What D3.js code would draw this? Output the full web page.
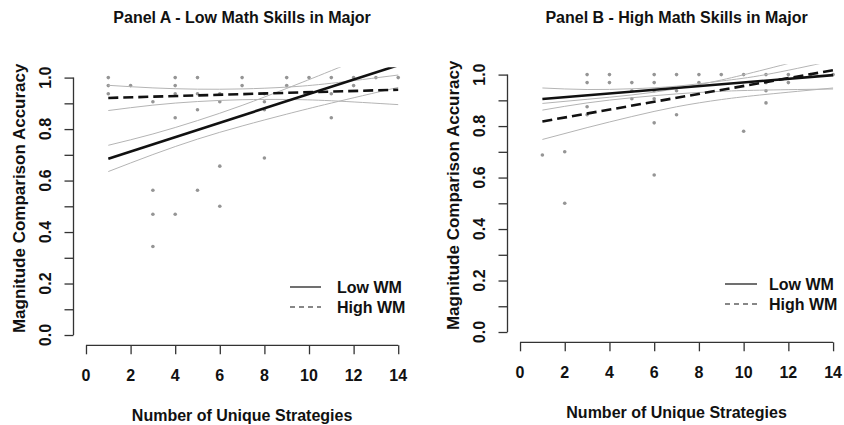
<!DOCTYPE html>
<html>
<head>
<meta charset="utf-8">
<script src="https://cdn.jsdelivr.net/npm/d3@7"></script>
<style>
  body { margin: 0; background: #fff; }
  text { font-family: "Liberation Sans", Arial, Helvetica, sans-serif; font-weight: bold; fill: #111; }
</style>
</head>
<body>
<svg id="chart" width="844" height="425"></svg>
<script>
// axis ticks
const xTicks = [0, 2, 4, 6, 8, 10, 12, 14]
const yTicks = [0, 0.1, 0.2, 0.3, 0.4, 0.5, 0.6, 0.7, 0.8, 0.9, 1.0]
const yLabels = ["0.0", "", "0.2", "", "0.4", "", "0.6", "", "0.8", "", "1.0"]
const legendLabels = ["Low WM", "High WM"]

// Panel A - raw points (strategies, accuracy)
const aPointX = [1, 1, 1, 2, 3, 3, 3, 3, 4, 4, 4, 4, 4, 5, 5, 5, 5, 6, 6, 6, 6, 7, 7, 8, 8, 8, 8, 9, 9, 10, 11, 11, 11, 12, 12, 13, 14]
const aPointY = [1.0, 0.969, 0.9375, 0.969, 0.906, 0.5625, 0.469, 0.344, 1.0, 0.969, 0.9375, 0.844, 0.469, 1.0, 0.9375, 0.875, 0.5625,
  0.9375, 0.906, 0.656, 0.5, 1.0, 0.969, 0.9375, 0.906, 0.875, 0.6875, 1.0, 0.969, 1.0, 1.0, 0.9375, 0.844, 1.0, 0.969, 1.0, 1.0]

// Panel B - raw points
const bPointX = [1, 2, 2, 3, 3, 3, 3, 4, 4, 5, 5, 5, 6, 6, 6, 6, 6, 6, 7, 7, 7, 8, 8, 9, 10, 10, 11, 11, 11, 11, 12, 12, 13, 14]
const bPointY = [0.6875, 0.70, 0.5, 1.0, 0.969, 0.875, 0.844, 1.0, 0.969, 0.969, 0.9375, 0.906, 1.0, 0.969, 0.9375, 0.906, 0.8125, 0.61,
  1.0, 0.9375, 0.844, 1.0, 0.969, 1.0, 1.0, 0.78, 1.0, 0.969, 0.9375, 0.89, 1.0, 0.969, 1.0, 1.0]

// fitted lines, values at x = 1 and x = 14
const fitX = [1, 14]
const aLowFit = [0.685, 1.048]
const aHighFit = [0.921, 0.953]
const bLowFit = [0.905, 0.998]
const bHighFit = [0.818, 1.017]

// confidence bands read at these x values
const ciX = [1, 3, 5, 7, 9, 11, 14]
const aLowUpper = [0.737, 0.781, 0.833, 0.892, 0.958, 1.027, 1.134]
const aLowLower = [0.635, 0.701, 0.761, 0.812, 0.858, 0.901, 0.962]
const aHighUpper = [0.970, 0.960, 0.955, 0.956, 0.963, 0.978, 1.010]
const aHighLower = [0.872, 0.893, 0.907, 0.914, 0.915, 0.910, 0.895]
const bLowUpper = [0.948, 0.942, 0.945, 0.955, 0.975, 1.000, 1.054]
const bLowLower = [0.862, 0.890, 0.910, 0.925, 0.935, 0.940, 0.944]
const bHighUpper = [0.888, 0.904, 0.921, 0.945, 0.979, 1.021, 1.088]
const bHighLower = [0.748, 0.794, 0.837, 0.875, 0.903, 0.923, 0.948]

const svg = d3.select("#chart")

const panels = [
  {
    id: "A", title: "Panel A - Low Math Skills in Major",
    xRange: [73.5, 410.7], yRange: [345.3, 67.3],
    px: aPointX, py: aPointY,
    low: aLowFit, high: aHighFit,
    bands: [aLowUpper, aLowLower, aHighUpper, aHighLower],
    legend: { x1: 290, x2: 321, tx: 337, y: [287, 307] },
    titleY: 23, xLabY: 381, xTitleY: 421
  },
  {
    id: "B", title: "Panel B - High Math Skills in Major",
    xRange: [507.5, 845.6], yRange: [342.3, 64.3],
    px: bPointX, py: bPointY,
    low: bLowFit, high: bHighFit,
    bands: [bLowUpper, bLowLower, bHighUpper, bHighLower],
    legend: { x1: 725, x2: 757, tx: 769, y: [284, 304] },
    titleY: 23, xLabY: 378, xTitleY: 418
  }
]

panels.forEach(p => drawPanel(p))

function drawPanel(p) {
  const x = d3.scaleLinear().domain([-0.56, 14.56]).range(p.xRange)
  const y = d3.scaleLinear().domain([-0.04, 1.04]).range(p.yRange)
  const g = svg.append("g")

  g.append("clipPath").attr("id", "clip" + p.id)
    .append("rect")
    .attr("x", p.xRange[0]).attr("y", p.yRange[1])
    .attr("width", p.xRange[1] - p.xRange[0])
    .attr("height", p.yRange[0] - p.yRange[1])

  const plot = g.append("g").attr("clip-path", `url(#clip${p.id})`)

  // raw points
  plot.selectAll("circle")
    .data(p.px.map((v, i) => [v, p.py[i]]))
    .enter().append("circle")
    .attr("cx", d => x(d[0]))
    .attr("cy", d => y(d[1]))
    .attr("r", 1.8)
    .attr("fill", "#959595")

  // confidence bands
  const band = d3.line().x((d, i) => x(ciX[i])).y(d => y(d)).curve(d3.curveNatural)
  p.bands.forEach(b => {
    plot.append("path")
      .attr("d", band(b))
      .attr("fill", "none")
      .attr("stroke", "#b4b4b4")
      .attr("stroke-width", 1)
  })

  // fitted lines
  const fit = d3.line().x((d, i) => x(fitX[i])).y(d => y(d))
  plot.append("path").attr("d", fit(p.low))
    .attr("fill", "none").attr("stroke", "#111").attr("stroke-width", 2.6)
  plot.append("path").attr("d", fit(p.high))
    .attr("fill", "none").attr("stroke", "#111").attr("stroke-width", 2.6)
    .attr("stroke-dasharray", "10,5")

  // x axis
  const xAxis = g.append("g")
    .attr("transform", `translate(0,${p.yRange[0]})`)
    .call(d3.axisBottom(x).tickValues(xTicks).tickSize(9).tickFormat(""))
  xAxis.select(".domain").remove()
  xAxis.append("line")
    .attr("x1", x(xTicks[0])).attr("x2", x(xTicks[xTicks.length - 1]))
    .attr("stroke", "#333").attr("stroke-width", 1.3)
  xAxis.selectAll(".tick line").attr("stroke", "#333").attr("stroke-width", 1.3)

  g.selectAll(".xlab")
    .data(xTicks)
    .enter().append("text")
    .attr("x", d => x(d))
    .attr("y", p.xLabY)
    .attr("text-anchor", "middle")
    .style("font-size", "16px")
    .text(d => d)

  // y axis
  const yAxis = g.append("g")
    .attr("transform", `translate(${p.xRange[0]},0)`)
    .call(d3.axisLeft(y).tickValues(yTicks).tickSize(9).tickFormat(""))
  yAxis.select(".domain").remove()
  yAxis.append("line")
    .attr("y1", y(yTicks[0])).attr("y2", y(yTicks[yTicks.length - 1]))
    .attr("stroke", "#333").attr("stroke-width", 1.3)
  yAxis.selectAll(".tick line").attr("stroke", "#333").attr("stroke-width", 1.3)

  const labX = p.xRange[0] - 23
  g.selectAll(".ylab")
    .data(yTicks.map((v, i) => [v, yLabels[i]]).filter(d => d[1] !== ""))
    .enter().append("text")
    .attr("transform", d => `translate(${labX},${y(d[0])}) rotate(-90)`)
    .attr("text-anchor", "middle")
    .style("font-size", "16px")
    .text(d => d[1])

  // titles
  const midX = (p.xRange[0] + p.xRange[1]) / 2
  const midY = (p.yRange[0] + p.yRange[1]) / 2
  g.append("text")
    .attr("x", midX).attr("y", p.titleY)
    .attr("text-anchor", "middle")
    .style("font-size", "16px")
    .text(p.title)

  g.append("text")
    .attr("x", midX).attr("y", p.xTitleY)
    .attr("text-anchor", "middle")
    .style("font-size", "16px")
    .text("Number of Unique Strategies")

  g.append("text")
    .attr("transform", `translate(${p.xRange[0] - 49},${midY - 8}) rotate(-90)`)
    .attr("text-anchor", "middle")
    .style("font-size", "17px")
    .text("Magnitude Comparison Accuracy")

  // legend
  const lg = p.legend
  legendLabels.forEach((lab, i) => {
    g.append("line")
      .attr("x1", lg.x1).attr("x2", lg.x2)
      .attr("y1", lg.y[i]).attr("y2", lg.y[i])
      .attr("stroke", "#111").attr("stroke-width", 1.2)
      .attr("stroke-dasharray", i === 1 ? "5,4" : null)
    g.append("text")
      .attr("x", lg.tx).attr("y", lg.y[i] + 6)
      .style("font-size", "16px")
      .text(lab)
  })
}
</script>
</body>
</html>
